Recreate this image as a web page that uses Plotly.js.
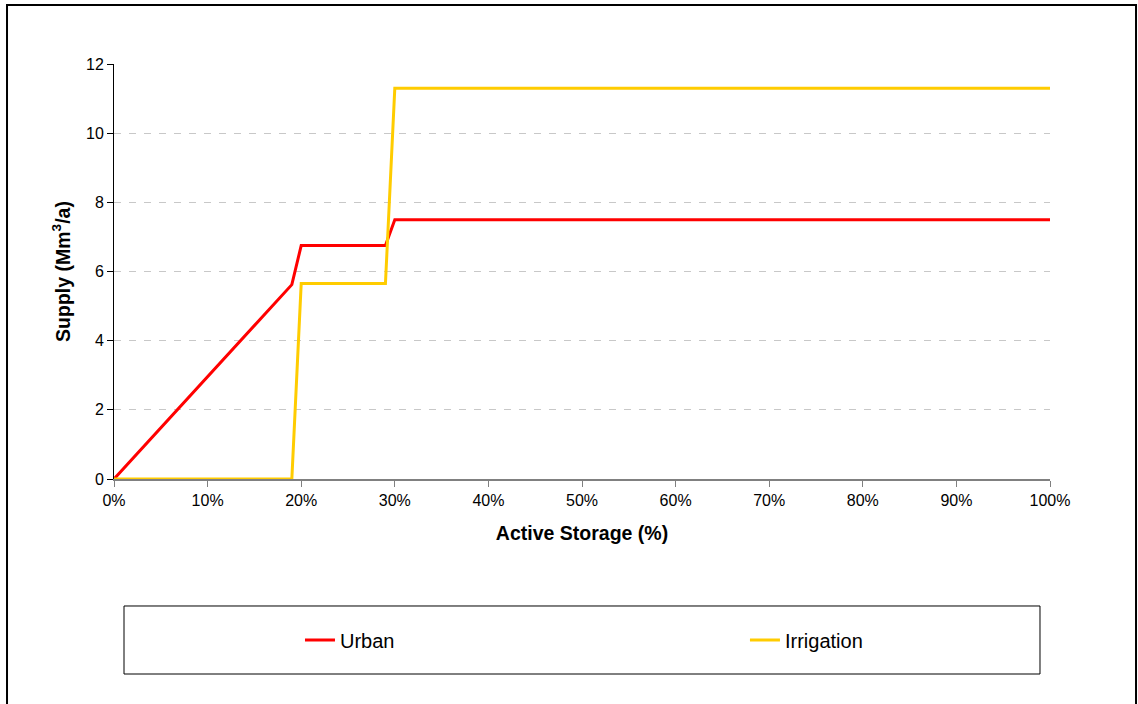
<!DOCTYPE html>
<html>
<head>
<meta charset="utf-8">
<script src="https://cdn.plot.ly/plotly-3.0.1.min.js"></script>
<style>
html,body{margin:0;padding:0;background:#fff;}
#chart{width:1138px;height:704px;}
</style>
</head>
<body>
<div id="chart"></div>
<script>
// Data
var storagePct = [0, 19, 20, 29, 30, 100];
var urbanSupply = [0, 5.62, 6.75, 6.75, 7.5, 7.5];
var irrigationSupply = [0, 0, 5.65, 5.65, 11.3, 11.3];
var seriesNames = ["Urban", "Irrigation"];
var xTickVals = [0, 10, 20, 30, 40, 50, 60, 70, 80, 90, 100];
var xTickLabels = ["0%", "10%", "20%", "30%", "40%", "50%", "60%", "70%", "80%", "90%", "100%"];
var yTickVals = [0, 2, 4, 6, 8, 10, 12];

var FONT = "Liberation Sans, Arial, sans-serif";

var traces = [
  {x: storagePct, y: urbanSupply, name: seriesNames[0], type: "scatter", mode: "lines",
   line: {color: "#FF0000", width: 3}, cliponaxis: false, legend: "legend"},
  {x: storagePct, y: irrigationSupply, name: seriesNames[1], type: "scatter", mode: "lines",
   line: {color: "#FFCC00", width: 3}, cliponaxis: false, legend: "legend2"}
];

var legendBase = {orientation: "h", xanchor: "left", y: -0.388, yanchor: "middle",
  font: {family: FONT, size: 20, color: "#000"}, bgcolor: "rgba(0,0,0,0)", borderwidth: 0, itemwidth: 30};

var layout = {
  width: 1138, height: 704,
  margin: {l: 114, r: 88, t: 64, b: 225},
  paper_bgcolor: "#ffffff", plot_bgcolor: "#ffffff",
  font: {family: FONT, color: "#000000", size: 16},
  showlegend: true,
  legend: Object.assign({}, legendBase, {x: 0.1987}),
  legend2: Object.assign({}, legendBase, {x: 0.6741}),
  xaxis: {range: [0, 100], tickvals: xTickVals, ticktext: xTickLabels, showgrid: false, zeroline: false,
          showline: true, linecolor: "#808080", linewidth: 2, ticks: "outside", ticklen: 6, tickcolor: "#808080",
          tickfont: {family: FONT, size: 16}, layer: "below traces",
          title: {text: "<b>Active Storage (%)</b>", font: {family: FONT, size: 19.5}, standoff: 18}},
  yaxis: {range: [0, 12], tickvals: yTickVals, showgrid: true, gridcolor: "#c8c8c8", griddash: "7px,8px",
          gridwidth: 1, zeroline: false, showline: true, linecolor: "#000000", linewidth: 1,
          ticks: "outside", ticklen: 6, tickcolor: "#000", tickfont: {family: FONT, size: 16},
          layer: "below traces",
          title: {text: "<b>Supply (Mm<sup>3</sup>/a)</b>", font: {family: FONT, size: 19.5}, standoff: 10}},
  shapes: [
    {type: "rect", xref: "paper", yref: "paper", x0: -0.1143, x1: 1.0919, y0: -0.57, y1: 1.1422,
     line: {color: "#000", width: 2}, fillcolor: "rgba(0,0,0,0)", layer: "above"},
    {type: "rect", xref: "paper", yref: "paper", x0: 0.0107, x1: 0.9893, y0: -0.4699, y1: -0.306,
     line: {color: "#000", width: 1}, fillcolor: "rgba(0,0,0,0)", layer: "below"}
  ]
};

Plotly.newPlot("chart", traces, layout, {displayModeBar: false, staticPlot: true});
</script>
</body>
</html>
